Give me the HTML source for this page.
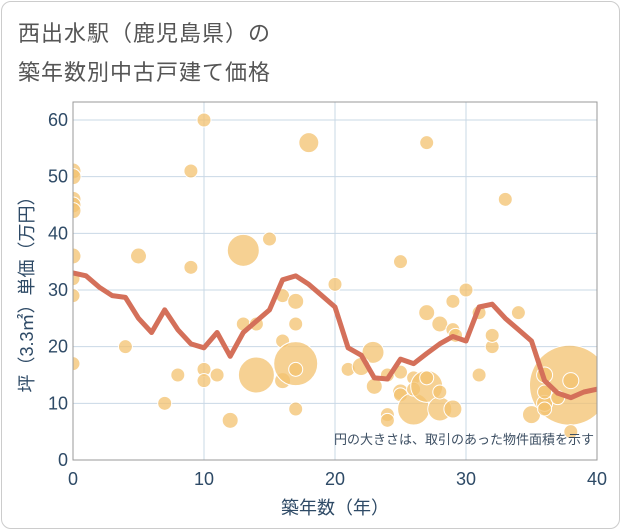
<!DOCTYPE html>
<html><head><meta charset="utf-8"><style>
body{margin:0;background:#fff;font-family:"Liberation Sans","Noto Sans CJK JP",sans-serif}
#card{position:absolute;left:1px;top:1px;width:617px;height:526px;border:1px solid #ccc;border-radius:10px;background:#fff}
.title{position:absolute;left:18px;font-size:22px;color:#555;letter-spacing:1px}
</style></head><body>
<div id="card"></div>
<div class="title" style="top:16px">西出水駅（鹿児島県）の</div>
<div class="title" style="top:55px">築年数別中古戸建て価格</div>
<svg id="chart" width="621" height="530" style="position:absolute;left:0;top:0">
<defs><clipPath id="pc"><rect x="73" y="102" width="524" height="358"/></clipPath></defs>
</svg>
<script>
const xTicks=[0,10,20,30,40];
const yTicks=[0,10,20,30,40,50,60];
const lineYears=[0,1,2,3,4,5,6,7,8,9,10,11,12,13,14,15,16,17,18,19,20,21,22,23,24,25,26,27,28,29,30,31,32,33,34,35,36,37,38,39,40];
const lineValues=[33,32.5,30.5,29,28.7,25,22.5,26.5,23,20.5,19.8,22.5,18.3,22.5,24.5,26.5,31.8,32.5,31,29,27,19.8,18.5,14.5,14.3,17.8,17,18.8,20.5,21.8,21,27,27.5,25,23,21,14,11.8,11,12,12.5];
const bubbleX=[0,0,0,0,0,0,0,0,0,4,5,7,8,9,9,10,10,10,11,12,13,13,14,14,15,16,16,16,17,17,17,17,17,18,20,21,22.9,22,23,24,25,25,25,26,26,26,24,24,27,27,28,28,27,27,25,28,29,29,29.2,30,29,31,32,32,31,33,34,37.9,35,36,36,36,38,38,36,37];
const bubbleY=[51,50,46,45,44,36,32,29,17,20,36,10,15,51,34,60,16,14,15,7,37,24,15,24,39,29,21,14,28,24,17,16,9,56,31,16,19,16.5,13,15,12,11.5,15.5,14.5,9,12.5,8,7,13,14.5,9,12,26,56,35,24,28,23,22,30,9,26,20,22,15,46,26,13.2,8,10,9,15,14,5,12,11];
const bubbleR=[8,8,8,8,8,8,7,7,7,7,8,7,7,7,7,7,7,7,7,8,16,7,18,7,7,7,7,8,8,7,22,7,7,10,7,7,11,9,8,7,8,7,7,7,16,7,7,7,16,7,12,7,8,7,7,8,7,7,7,7,9,7,7,7,7,7,7,40,9,8,7,8,8,7,7,7];
const L=73,R=597,T=102,B=460;
const sx=v=>L+v/40*(R-L);
const sy=v=>B-v/60*(B-120);
const svg=document.getElementById('chart');
const NS='http://www.w3.org/2000/svg';
function mk(t,a,p){const e=document.createElementNS(NS,t);for(const k in a)e.setAttribute(k,a[k]);(p||svg).appendChild(e);return e;}
let bg=mk('rect',{x:L,y:T,width:R-L,height:B-T,fill:'#fff',stroke:'#999'});


xTicks.forEach(v=>{
 const g=mk('line',{x1:sx(v),x2:sx(v),y1:T,y2:B,stroke:'#c9d8e6','stroke-width':1});
 
 
 const t=mk('text',{x:sx(v),y:B+25,'text-anchor':'middle','font-size':18,fill:'#2e4a66'});
 t.textContent=v;
 
 
});
yTicks.forEach(v=>{
 const g=mk('line',{x1:L,x2:R,y1:sy(v),y2:sy(v),stroke:'#c9d8e6','stroke-width':1});
 
 
 const t=mk('text',{x:L-5,y:sy(v)+6,'text-anchor':'end','font-size':18,fill:'#2e4a66'});
 t.textContent=v;
 
 
});
const grp=mk('g',{'clip-path':'url(#pc)'});
bubbleX.forEach((x,i)=>{
 const c=mk('circle',{cx:sx(x),cy:sy(bubbleY[i]),r:bubbleR[i],fill:'#f3c16f','fill-opacity':0.75,stroke:'#fff','stroke-width':1},grp);
 
 
});
const pl=mk('polyline',{points:lineYears.map((x,i)=>sx(x)+','+sy(lineValues[i])).join(' '),fill:'none',stroke:'#d4705a','stroke-width':5,'stroke-linejoin':'round'},grp);


mk('rect',{x:L,y:T,width:R-L,height:B-T,fill:'none',stroke:'#999'});
const note=mk('text',{x:R-3,y:444,'text-anchor':'end','font-size':13,fill:'#3d4f63'});
note.textContent='円の大きさは、取引のあった物件面積を示す';


const xt=mk('text',{x:(L+R)/2,y:514,'text-anchor':'middle','font-size':18,fill:'#2e4a66'});
xt.textContent='築年数（年）';


const yt=mk('text',{x:0,y:0,'text-anchor':'middle','font-size':18,fill:'#2e4a66',transform:'translate(33,290) rotate(-90)'});
yt.textContent='坪（3.3㎡）単価（万円）';


</script>
</body></html>
